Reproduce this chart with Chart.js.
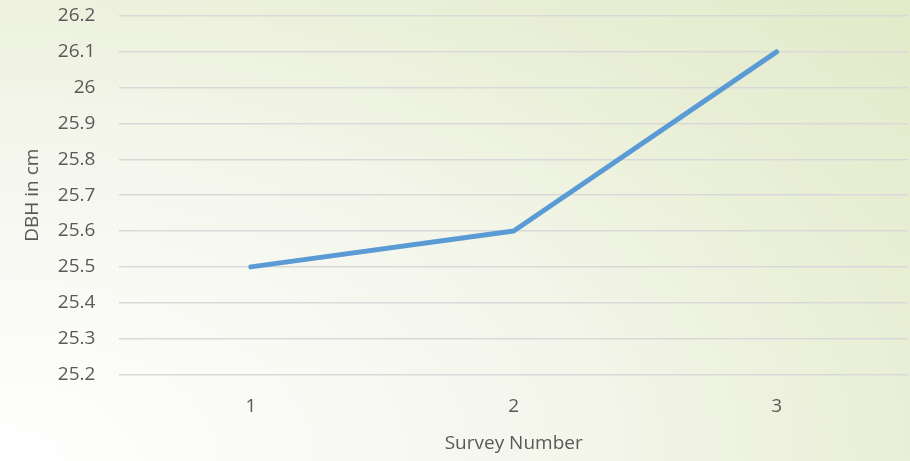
<!DOCTYPE html>
<html>
<head>
<meta charset="utf-8">
<script src="https://cdn.jsdelivr.net/npm/chart.js@4"></script>
<style>
  html, body { margin: 0; padding: 0; }
  #wrap {
    width: 910px; height: 461px; position: relative;
    background: radial-gradient(ellipse 140% 160% at 0% 100%, #ffffff 0%, #f5f7ee 40%, #e8eed4 75%, #e1e9c6 100%);
  }
</style>
</head>
<body>
<div id="wrap"><canvas id="chart" width="910" height="461"></canvas></div>
<script>
const surveys = ['1', '2', '3'];
const dbh = [25.5, 25.6, 26.1];
const yTicks = [25.2, 25.3, 25.4, 25.5, 25.6, 25.7, 25.8, 25.9, 26, 26.1, 26.2];

const txt = '#595959';
const font = { family: 'Open Sans', size: 19 };

const ctx = document.getElementById('chart').getContext('2d');
const chart = new Chart(ctx, {
  type: 'line',
  data: {
    labels: surveys,
    datasets: [{
      label: 'DBH',
      data: dbh,
      borderColor: '#5b9bd5',
      borderWidth: 5,
      borderCapStyle: 'round',
      borderJoinStyle: 'round',
      pointRadius: 0,
      tension: 0
    }]
  },
  options: {
    responsive: false,
    animation: false,
    layout: { padding: { left: 17, top: 16, right: 2, bottom: 6 } },
    plugins: { legend: { display: false }, tooltip: { enabled: false } },
    scales: {
      x: {
        offset: true,
        grid: { display: false },
        border: { display: false },
        ticks: { color: txt, font: font, padding: 13 },
        title: { display: true, text: 'Survey Number', color: txt, font: font, padding: { top: 1, bottom: 0 } }
      },
      y: {
        min: 25.2,
        max: 26.2,
        afterBuildTicks: axis => { axis.ticks = yTicks.map(v => ({ value: v })); },
        grid: { color: '#d9d9d9', lineWidth: 1.5, drawTicks: true, tickLength: 24, tickColor: 'rgba(0,0,0,0)' },
        border: { display: false },
        ticks: { color: txt, font: font, padding: 0, callback: v => String(Number(v.toFixed(1))) },
        title: { display: true, text: 'DBH in cm', color: txt, font: font, padding: { bottom: 14 } }
      }
    }
  }
});
</script>
</body>
</html>
